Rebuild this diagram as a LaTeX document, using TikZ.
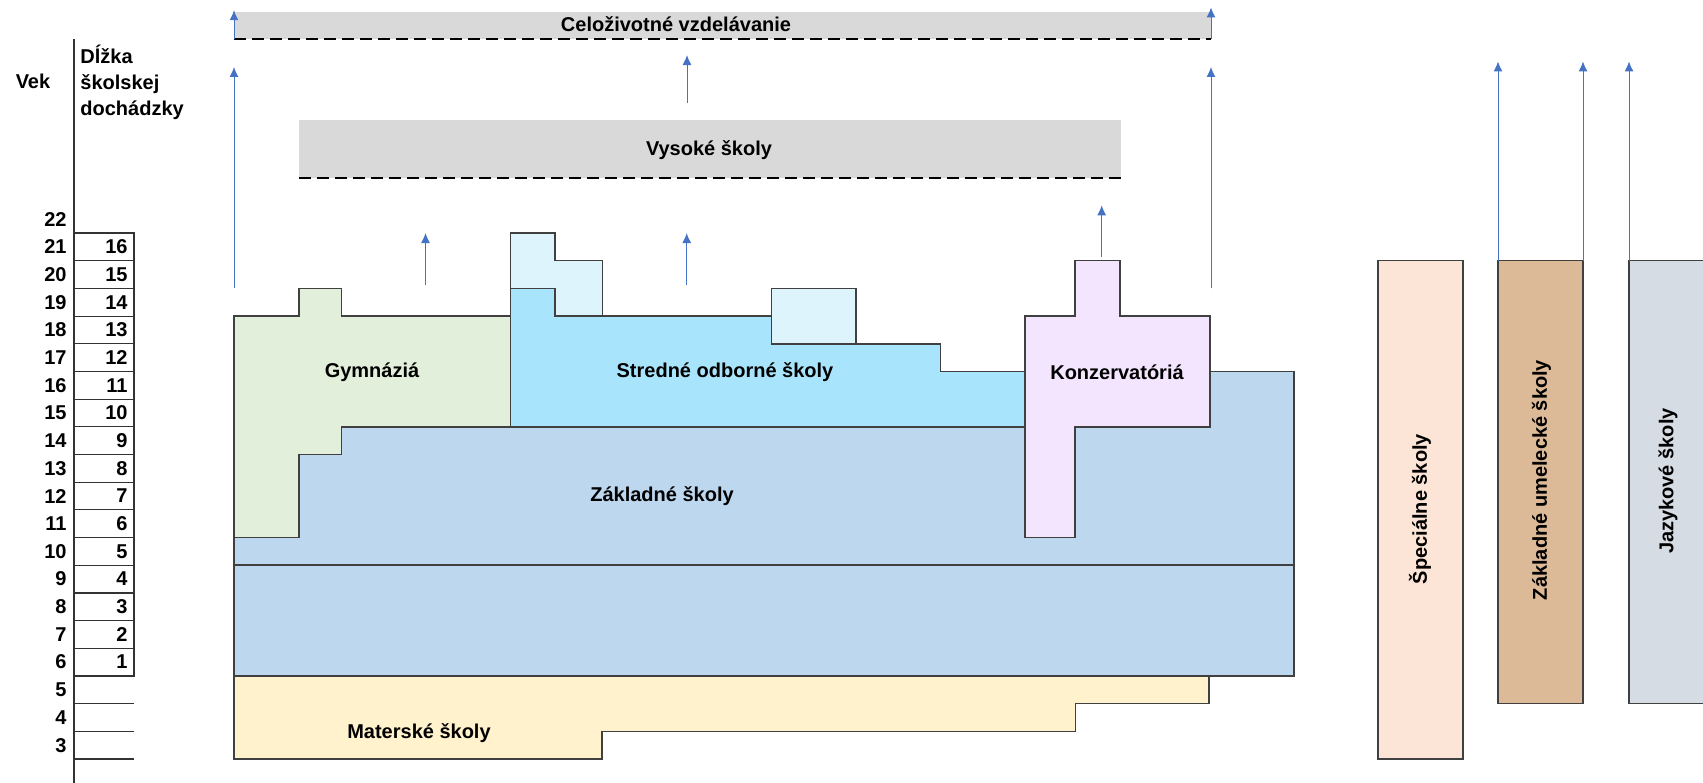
\documentclass[tikz,border=0pt]{standalone}
\usepackage{fontspec}
\setmainfont{Liberation Sans}
\usepackage{xcolor}
\usetikzlibrary{arrows.meta}

\definecolor{bandgray}{HTML}{D9D9D9}
\definecolor{gymgreen}{HTML}{E2EFDA}
\definecolor{sosblue}{HTML}{A8E5FC}
\definecolor{soslight}{HTML}{DDF4FD}
\definecolor{zsblue}{HTML}{BDD7EE}
\definecolor{konzlilac}{HTML}{F2E5FD}
\definecolor{msyellow}{HTML}{FFF2CC}
\definecolor{specpeach}{HTML}{FCE4D6}
\definecolor{zustan}{HTML}{DDBA97}
\definecolor{jazgray}{HTML}{D6DCE4}
\definecolor{arrowblue}{HTML}{4472C4}

\begin{document}
\begin{tikzpicture}[x=0.5pt, y=13.84pt, font=\bfseries,
    block/.style={draw=black!75, line width=0.75pt},
    cell/.style={draw=black!80, line width=0.6pt},
    uparrow/.style={-{Latex[length=5pt,width=4.5pt]}, draw=arrowblue, fill=arrowblue, line width=0.5pt},
    dashline/.style={draw=black, line width=1pt, dash pattern=on 6pt off 3pt}]
        \useasboundingbox (0,2.133) rectangle (1703,30.42);
        \clip (0,2.133) rectangle (1703,30.42);

        % Left scale
        \draw[cell] (74,2.133) -- (74,29);
        \node (vek) at (33,27.47) {Vek};
        \node[anchor=west, align=left, inner sep=1.5pt, font=\bfseries\fontsize{10}{13}\selectfont] (dlzka) at (77,27.45) {Dĺžka\\školskej\\dochádzky};
        \foreach \a in {3,...,22}
            \node[anchor=east, inner sep=1pt] (age\a) at (69,\a+0.5) {\a};
        \foreach \g in {1,...,16} {
            \draw[cell] (74,\g+5) rectangle (134,\g+6);
            \node[anchor=east, inner sep=1pt] (grade\g) at (130,\g+5.5) {\g};
        }
        \foreach \l in {3,4,5}
            \draw[cell] (74,\l) -- (134,\l);

        % Celozivotne vzdelavanie
        \fill[bandgray] (234,29) rectangle (1211,30);
        \draw[dashline] (234,29) -- (1211,29);
        \node (celozivotne) at (676,29.55) {Celoživotné vzdelávanie};

        % Vysoke skoly
        \fill[bandgray] (299,24) rectangle (1121,26.1);
        \draw[dashline] (299,24) -- (1121,24);
        \node (vysoke) at (709,25.0) {Vysoké školy};

        % Zakladne skoly
        \draw[block, fill=zsblue] (234,6) rectangle (1294,10);
        \draw[block, fill=zsblue] (234,10) -- (234,11) -- (299,11) -- (299,14) -- (341.5,14) -- (341.5,15)
            -- (1210,15) -- (1210,17) -- (1294,17) -- (1294,10) -- cycle;
        \node (zs) at (662,12.49) {Základné školy};

        % Gymnazia
        \draw[block, fill=gymgreen] (234,11) -- (234,19) -- (299,19) -- (299,20) -- (341.5,20) -- (341.5,19)
            -- (510.5,19) -- (510.5,15) -- (341.5,15) -- (341.5,14) -- (299,14) -- (299,11) -- cycle;
        \node (gym) at (372,16.98) {Gymnáziá};

        % Stredne odborne skoly
        \draw[block, fill=sosblue] (510.5,15) -- (510.5,20) -- (555,20) -- (555,19) -- (771.4,19) -- (771.4,18)
            -- (940.7,18) -- (940.7,17) -- (1025,17) -- (1025,15) -- cycle;
        \draw[block, fill=soslight] (510.5,20) -- (510.5,22) -- (555,22) -- (555,21) -- (602.7,21) -- (602.7,19)
            -- (555,19) -- (555,20) -- cycle;
        \draw[block, fill=soslight] (771.4,18) rectangle (856,20);
        \node (sos) at (725,16.98) {Stredné odborné školy};

        % Konzervatoria
        \draw[block, fill=konzlilac] (1025,11) -- (1025,19) -- (1075,19) -- (1075,21) -- (1120,21) -- (1120,19)
            -- (1210,19) -- (1210,15) -- (1075,15) -- (1075,11) -- cycle;
        \node (konz) at (1117,16.98) {Konzervatóriá};

        % Materske skoly
        \draw[block, fill=msyellow] (234,3) -- (234,6) -- (1209,6) -- (1209,5) -- (1075.5,5) -- (1075.5,4)
            -- (602,4) -- (602,3) -- cycle;
        \node (ms) at (419,3.94) {Materské školy};

        % Other schools
        \draw[block, fill=specpeach] (1378,3) rectangle (1463,21);
        \node[rotate=90] (spec) at (1420,12.03) {Špeciálne školy};
        \draw[block, fill=zustan] (1498,5) rectangle (1583,21);
        \node[rotate=90] (zus) at (1541.5,13.08) {Základné umelecké školy};
        \draw[block, fill=jazgray] (1629,5) rectangle (1740,21);
        \node[rotate=90] (jazyk) at (1668,13.04) {Jazykové školy};

        % Arrows
        \foreach \x/\ya/\yb [count=\i] in {234/29/30.05, 1211/29/30.15, 234/20/28, 1211/20/28, 687/26.7/28.43,
                425.5/20.12/22, 686.7/20.12/22, 1101.7/21.15/23, 1498/21/28.2, 1583/21/28.2, 1629/21/28.2} {
            \coordinate (from\i) at (\x,\ya);
            \coordinate (to\i) at (\x,\yb);
            \draw[uparrow] (from\i) -- (to\i);
        }
\end{tikzpicture}
\end{document}
